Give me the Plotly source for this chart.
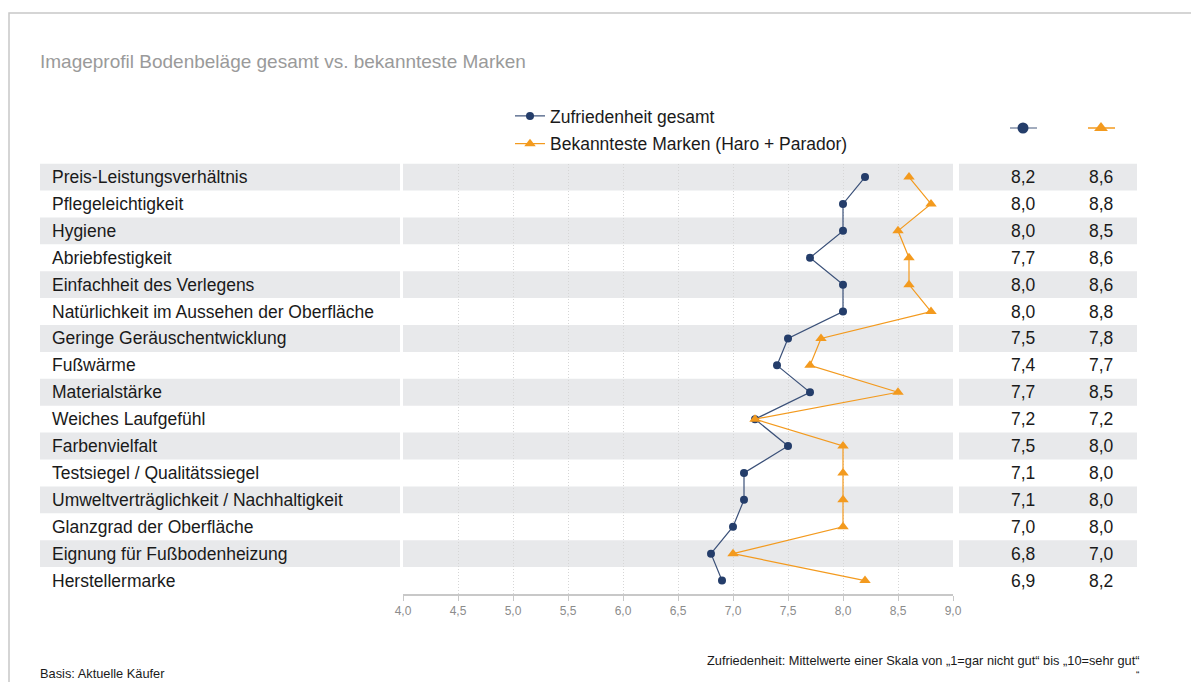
import plotly.graph_objects as go

# page body has an 8px margin; the figure is drawn so that its
# visible area matches the 1199x682 window
OFF = 8
W, H = 1199 - OFF, 682 - OFF

categories = [
    "Preis-Leistungsverhältnis",
    "Pflegeleichtigkeit",
    "Hygiene",
    "Abriebfestigkeit",
    "Einfachheit des Verlegens",
    "Natürlichkeit im Aussehen der Oberfläche",
    "Geringe Geräuschentwicklung",
    "Fußwärme",
    "Materialstärke",
    "Weiches Laufgefühl",
    "Farbenvielfalt",
    "Testsiegel / Qualitätssiegel",
    "Umweltverträglichkeit / Nachhaltigkeit",
    "Glanzgrad der Oberfläche",
    "Eignung für Fußbodenheizung",
    "Herstellermarke",
]
gesamt = [8.2, 8.0, 8.0, 7.7, 8.0, 8.0, 7.5, 7.4, 7.7, 7.2, 7.5, 7.1, 7.1, 7.0, 6.8, 6.9]
marken = [8.6, 8.8, 8.5, 8.6, 8.6, 8.8, 7.8, 7.7, 8.5, 7.2, 8.0, 8.0, 8.0, 8.0, 7.0, 8.2]
series_names = ["Zufriedenheit gesamt", "Bekannteste Marken (Haro + Parador)"]
tick_vals = [4.0, 4.5, 5.0, 5.5, 6.0, 6.5, 7.0, 7.5, 8.0, 8.5, 9.0]
tick_text = ["4,0", "4,5", "5,0", "5,5", "6,0", "6,5", "7,0", "7,5", "8,0", "8,5", "9,0"]

title_text = "Imageprofil Bodenbeläge gesamt vs. bekannteste Marken"
note_text = "Zufriedenheit: Mittelwerte einer Skala von „1=gar nicht gut“ bis „10=sehr gut“"
basis_text = "Basis: Aktuelle Käufer"

NAVY = "#243d6a"
NAVY_LINE = "#3b5179"
ORANGE = "#f39a1e"
BAND = "#e8e9eb"
FONT = "Liberation Sans, Arial, sans-serif"


def px(x):
    return (x - OFF) / W


def py(y):
    return 1 - (y - OFF) / H


def fmt(v):
    return f"{v:.1f}".replace(".", ",")


rows = list(range(len(categories)))

fig = go.Figure()

fig.add_trace(go.Scatter(
    x=gesamt, y=rows, mode="lines+markers", name=series_names[0],
    line=dict(color=NAVY_LINE, width=1.2),
    marker=dict(color=NAVY, size=8, symbol="circle"),
    legendgroup="a", cliponaxis=False,
))
fig.add_trace(go.Scatter(
    x=marken, y=rows, mode="lines+markers", name=series_names[1],
    line=dict(color=ORANGE, width=1.2),
    marker=dict(color=ORANGE, size=10, symbol="triangle-up"),
    legendgroup="b", cliponaxis=False,
))

shapes = []
# outer frame
shapes.append(dict(type="rect", xref="paper", yref="paper",
                   x0=px(9), x1=1.05, y0=-0.05, y1=py(13),
                   line=dict(color="#c8c8c8", width=1.5), fillcolor="rgba(0,0,0,0)",
                   layer="below"))
# alternating bands
for i in rows:
    if i % 2 == 0:
        for (a, b) in [(40, 400), (403, 953), (959, 1137)]:
            shapes.append(dict(type="rect", xref="paper", yref="y",
                               x0=px(a), x1=px(b), y0=i - 0.5, y1=i + 0.5,
                               fillcolor=BAND, line=dict(width=0), layer="below"))

# key symbols above the two value columns
key_cols = [(1023, NAVY, "#8391a8", "circle", 11), (1101, ORANGE, ORANGE, "triangle-up", 12)]
for cx, col, lcol, sym, sz in key_cols:
    shapes.append(dict(type="line", xref="paper", yref="paper",
                       x0=px(cx - 13), x1=px(cx + 14), y0=py(128), y1=py(128),
                       line=dict(color=lcol, width=1.5), layer="below"))
    fig.add_trace(go.Scatter(
        x=[px(cx)], y=[py(128)], mode="markers", xaxis="x2", yaxis="y2",
        showlegend=False, hoverinfo="skip", cliponaxis=False,
        marker=dict(color=col, size=sz, symbol=sym, line=dict(width=0)),
    ))

annotations = []
annotations.append(dict(text=title_text, xref="paper", yref="paper",
                        x=px(38), y=py(62), xanchor="left", yanchor="middle",
                        showarrow=False, font=dict(family=FONT, size=19, color="#9a9a9a")))
for i, c in enumerate(categories):
    annotations.append(dict(text=c, xref="paper", yref="y", x=px(50), y=i,
                            xanchor="left", yanchor="middle", showarrow=False,
                            font=dict(family=FONT, size=17.5, color="#1a1a1a")))
    annotations.append(dict(text=fmt(gesamt[i]), xref="paper", yref="y", x=px(1023), y=i,
                            xanchor="center", yanchor="middle", showarrow=False,
                            font=dict(family=FONT, size=17.5, color="#1a1a1a")))
    annotations.append(dict(text=fmt(marken[i]), xref="paper", yref="y", x=px(1101), y=i,
                            xanchor="center", yanchor="middle", showarrow=False,
                            font=dict(family=FONT, size=17.5, color="#1a1a1a")))
annotations.append(dict(text=note_text, xref="paper", yref="paper", x=px(1141), y=py(660),
                        xanchor="right", yanchor="middle", showarrow=False,
                        font=dict(family=FONT, size=12.8, color="#1a1a1a")))
annotations.append(dict(text="“", xref="paper", yref="paper", x=px(1137), y=py(675.5),
                        xanchor="center", yanchor="middle", showarrow=False,
                        font=dict(family=FONT, size=10, color="#1a1a1a")))
annotations.append(dict(text=basis_text, xref="paper", yref="paper", x=px(38), y=py(673),
                        xanchor="left", yanchor="middle", showarrow=False,
                        font=dict(family=FONT, size=12.8, color="#1a1a1a")))

fig.update_layout(
    width=W, height=H, autosize=False,
    margin=dict(l=0, r=0, t=0, b=0, pad=0, autoexpand=False),
    paper_bgcolor="white", plot_bgcolor="rgba(0,0,0,0)",
    font=dict(family=FONT),
    shapes=shapes, annotations=annotations,
    showlegend=True,
    legend=dict(x=px(510), y=py(98), xanchor="left", yanchor="top",
                bgcolor="rgba(0,0,0,0)", font=dict(family=FONT, size=17.5, color="#1a1a1a"),
                tracegroupgap=2, itemwidth=30),
    xaxis=dict(domain=[px(403), px(953)], range=[4, 9], tickvals=tick_vals, ticktext=tick_text,
               showgrid=True, gridcolor="#d6d6d6", griddash="1px,2px", gridwidth=1,
               showline=True, linecolor="#c8c8c8", linewidth=1.5,
               ticks="outside", ticklen=5, tickcolor="#c8c8c8",
               tickfont=dict(family=FONT, size=12, color="#8c8c8c"), zeroline=False,
               fixedrange=True, automargin=False),
    yaxis=dict(domain=[py(594), py(163.6)], range=[15.5, -0.5], showticklabels=False,
               showgrid=False, zeroline=False, showline=False, fixedrange=True,
               automargin=False),
    xaxis2=dict(domain=[0, 1], range=[0, 1], visible=False, anchor="y2", fixedrange=True),
    yaxis2=dict(domain=[0, 1], range=[0, 1], visible=False, anchor="x2", fixedrange=True),
)

fig.write_html("out.html")
